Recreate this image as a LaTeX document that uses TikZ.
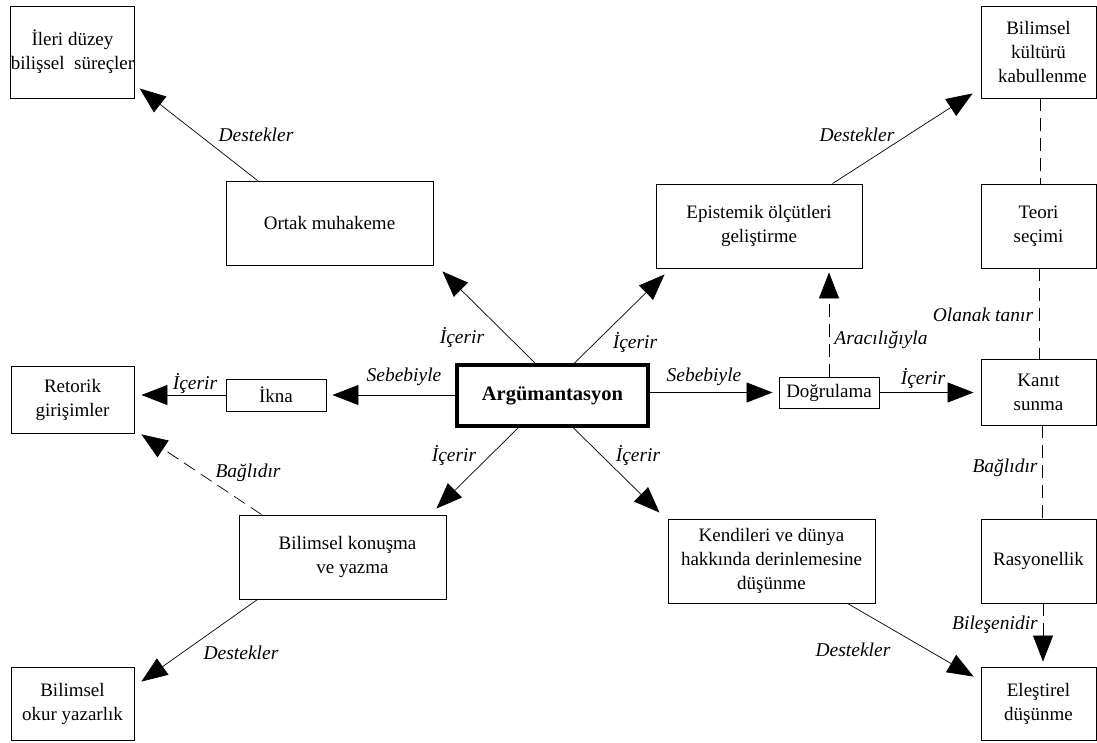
\documentclass[tikz,border=0pt]{standalone}
\usepackage{fontspec}
\setmainfont{Liberation Serif}
\usetikzlibrary{arrows.meta,calc}
\begin{document}
\begin{tikzpicture}[x=1pt,y=-1pt,
  box/.style={draw, rectangle, line width=0.9pt, inner sep=0pt, align=center,
    font=\fontsize{19}{24}\selectfont},
  sz/.style 2 args={minimum width=#1, minimum height=#2},
  mainbox/.style={box, line width=3.5pt, font=\fontsize{20.5}{24}\selectfont\bfseries},
  lbl/.style={inner sep=0pt, font=\fontsize{19.5}{24}\selectfont\itshape},
  arr/.style={line width=0.7pt, -{Triangle[length=26pt,width=20pt]}},
  dsh/.style={line width=0.9pt, dash pattern=on 13pt off 7pt},
]
\useasboundingbox (0,0) rectangle (1097,742);

% concept boxes
\node[box, sz={123pt}{92pt}] (ileri) at (72.5,52) {İleri düzey\\bilişsel\ \ süreçler};
\node[box, sz={207pt}{84pt}] (ortak) at (329.5,223) {Ortak muhakeme};
\node[box, sz={115pt}{92pt}] (kultur) at (1038.5,52) {Bilimsel\\kültürü\\\hspace*{8pt}kabullenme};
\node[box, sz={206pt}{84pt}] (epist) at (759,226) {Epistemik ölçütleri\\geliştirme};
\node[box, sz={115pt}{84pt}] (teori) at (1038.5,226) {Teori\\seçimi};
\node[box, sz={123pt}{67pt}] (retorik) at (72.5,399.5) {Retorik\\girişimler};
\node[box, sz={100pt}{32pt}] (ikna) at (276,395) {İkna};
\node[mainbox, sz={191pt}{61pt}] (arg) at (552.5,395.5) {Argümantasyon};
\node[box, sz={100pt}{31pt}] (dogru) at (829,392.5) {Doğrulama};
\node[box, sz={115pt}{66pt}] (kanit) at (1038.5,392) {Kanıt\\sunma};
\node[box, sz={207pt}{84pt}] (konusma) at (342.5,557) {\hspace*{10pt}Bilimsel konuşma\\\hspace*{20pt}ve yazma};
\node[box, sz={207pt}{84pt}] (kendi) at (771.5,561) {Kendileri ve dünya\\hakkında derinlemesine\\düşünme};
\node[box, sz={115pt}{84pt}] (rasyon) at (1038.5,561) {Rasyonellik};
\node[box, sz={123pt}{73pt}] (okur) at (72.5,703.5) {Bilimsel\\okur yazarlık};
\node[box, sz={115pt}{73pt}] (elestir) at (1038.5,703.5) {Eleştirel\\düşünme};

% solid connectors
\draw[arr] ($(ortak.north west)+(32,0)$) -- ($(ileri.south east)+(5,-10)$);
\draw[arr] ($(arg.north west)+(80,0)$) -- ($(ortak.south east)+(9,6)$);
\draw[arr] ($(arg.north west)+(119,0)$) -- ($(epist.south west)+(9,6)$);
\draw[arr] ($(epist.north west)+(177,0)$) -- ($(kultur.south west)+(-8,-5)$);
\draw[arr, shorten >=6pt] (arg.west |- ikna.east) -- (ikna.east);
\draw[arr, shorten >=7pt] (ikna.west) -- (ikna.west -| retorik.east);
\draw[arr, shorten >=6pt] (arg.east |- dogru.west) -- (dogru.west);
\draw[arr, shorten >=7pt] (dogru.east) -- (dogru.east -| kanit.west);
\draw[arr] ($(arg.south west)+(63,0)$) -- ($(konusma.north east)+(-10,-6)$);
\draw[arr] ($(arg.south west)+(118,0)$) -- ($(kendi.north west)+(-8,-6)$);
\draw[arr] ($(konusma.south west)+(19,0)$) -- ($(okur.north east)+(7,15)$);
\draw[arr] ($(kendi.south west)+(180,0)$) -- ($(elestir.north west)+(-7,10)$);

% dashed connectors
\draw[dsh, arr, shorten >=4pt] (dogru.north) -- (dogru.north |- epist.south);
\draw[dsh, arr] ($(konusma.north west)+(23,0)$) -- ($(retorik.south east)+(7,1)$);
\draw[dsh] ([xshift=1.5pt]kultur.south) -- ([xshift=1.5pt]teori.north);
\draw[dsh] ([xshift=0.5pt]teori.south) -- ([xshift=0.5pt]kanit.north);
\draw[dsh] ([xshift=3.5pt]kanit.south) -- ([xshift=3.5pt]rasyon.north);
\draw[dsh, arr, shorten >=5pt] ([xshift=4.5pt]rasyon.south) -- ([xshift=4.5pt]elestir.north);

% connector labels
\node[lbl] (l1) at (256,135) {Destekler};
\node[lbl] (l2) at (462,337) {İçerir};
\node[lbl] (l3) at (635,342) {İçerir};
\node[lbl] (l4) at (857,135) {Destekler};
\node[lbl] (l5) at (404,377) {Sebebiyle};
\node[lbl] (l6) at (195,383) {İçerir};
\node[lbl] (l7) at (704,377) {Sebebiyle};
\node[lbl] (l8) at (923,378) {İçerir};
\node[lbl] (l9) at (881,340) {Aracılığıyla};
\node[lbl] (l10) at (983,315) {Olanak tanır};
\node[lbl] (l11) at (1005,468) {Bağlıdır};
\node[lbl] (l12) at (995,625) {Bileşenidir};
\node[lbl] (l13) at (454,455) {İçerir};
\node[lbl] (l14) at (638,455) {İçerir};
\node[lbl] (l15) at (248,473) {Bağlıdır};
\node[lbl] (l16) at (241,653) {Destekler};
\node[lbl] (l17) at (853,650) {Destekler};
\end{tikzpicture}
\end{document}
